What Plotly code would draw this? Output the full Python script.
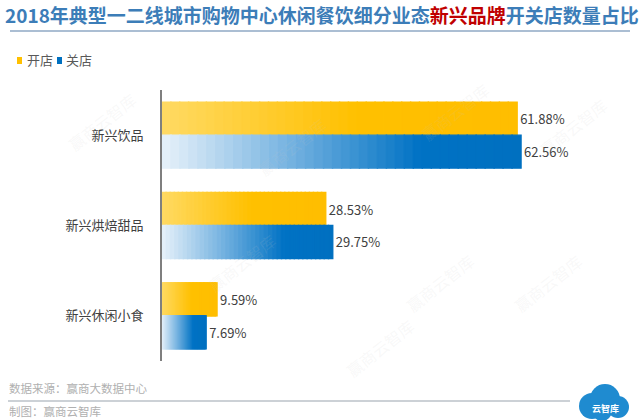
import plotly.graph_objects as go

categories = ["新兴饮品", "新兴烘焙甜品", "新兴休闲小食"]
open_pct = [61.88, 28.53, 9.59]
close_pct = [62.56, 29.75, 7.69]
series_names = ["开店", "关店"]

FONT = "Noto Sans CJK SC"
W, H = 640, 420
ML, MR, MT, MB = 162, 20, 90, 59
PW, PH = W - ML - MR, H - MT - MB


def px_x(px):
    return (px - ML) / PW


def px_y(py):
    return (H - MB - py) / PH


def lerp_color(c1, c2, t):
    return "rgb({},{},{})".format(*[round(a + (b - a) * t) for a, b in zip(c1, c2)])


def grad(stops, t):
    for (t0, c0), (t1, c1) in zip(stops, stops[1:]):
        if t <= t1:
            return lerp_color(c0, c1, (t - t0) / (t1 - t0) if t1 > t0 else 0)
    return lerp_color(stops[-1][1], stops[-1][1], 0)


gold_stops = [(0.0, (255, 218, 100)), (0.55, (255, 192, 0)), (1.0, (255, 190, 0))]
blue_stops = [(0.0, (232, 242, 250)), (0.35, (120, 180, 225)), (0.72, (0, 114, 196)), (1.0, (0, 112, 192))]

N = 40
fig = go.Figure()
for name, vals, stops in [(series_names[0], open_pct, gold_stops), (series_names[1], close_pct, blue_stops)]:
    ys, xs, bases, cols, texts = [], [], [], [], []
    for cat, v in zip(categories, vals):
        for k in range(N):
            ys.append(cat)
            bases.append(v * k / N)
            xs.append(v / N)
            cols.append(grad(stops, (k + 0.5) / N))
            texts.append(f"{v:.2f}%" if k == N - 1 else "")
    fig.add_trace(go.Bar(
        name=name, y=ys, x=xs, base=bases, orientation="h",
        marker=dict(color=cols, line=dict(width=1.4, color=cols)),
        text=texts, textposition="outside", cliponaxis=False,
        textfont=dict(family=FONT, size=13, color="#404040"),
        showlegend=False, hoverinfo="skip",
    ))

shapes = [
    dict(type="line", xref="paper", yref="paper", x0=px_x(10), x1=px_x(630),
         y0=px_y(31), y1=px_y(31), line=dict(color="#8FA8C4", width=1.5)),
    dict(type="line", xref="paper", yref="paper", x0=px_x(8), x1=px_x(570),
         y0=px_y(401), y1=px_y(401), line=dict(color="#9AA4AE", width=1.2)),
    dict(type="rect", xref="paper", yref="paper", x0=px_x(17), x1=px_x(22),
         y0=px_y(64), y1=px_y(57), fillcolor="#FFC000", line=dict(width=0)),
    dict(type="rect", xref="paper", yref="paper", x0=px_x(57), x1=px_x(62),
         y0=px_y(64), y1=px_y(57), fillcolor="#0070C0", line=dict(width=0)),
]
# logo cloud
for cx, cy, r in [(592, 406, 13), (605, 399, 15), (618, 407, 11), (602, 411, 10)]:
    shapes.append(dict(type="circle", xref="paper", yref="paper",
                       x0=px_x(cx - r), x1=px_x(cx + r), y0=px_y(cy + r), y1=px_y(cy - r),
                       fillcolor="#1F8BD0", line=dict(width=0)))

annotations = [
    dict(text="开店", x=px_x(25), y=px_y(60), xref="paper", yref="paper", xanchor="left",
         yanchor="middle", showarrow=False, font=dict(family=FONT, size=13, color="#595959")),
    dict(text="关店", x=px_x(64), y=px_y(60), xref="paper", yref="paper", xanchor="left",
         yanchor="middle", showarrow=False, font=dict(family=FONT, size=13, color="#595959")),
    dict(text="数据来源：赢商大数据中心", x=px_x(7), y=px_y(388), xref="paper", yref="paper",
         xanchor="left", yanchor="middle", showarrow=False,
         font=dict(family=FONT, size=11.5, color="#B0B0B0")),
    dict(text="制图：赢商云智库", x=px_x(7), y=px_y(411), xref="paper", yref="paper",
         xanchor="left", yanchor="middle", showarrow=False,
         font=dict(family=FONT, size=11.5, color="#B0B0B0")),
    dict(text="<b>云智库</b>", x=px_x(605), y=px_y(408), xref="paper", yref="paper",
         xanchor="center", yanchor="middle", showarrow=False,
         font=dict(family=FONT, size=9, color="white")),
]
for wx, wy in [(60, 85), (250, 110), (455, 75), (615, 90), (200, 300), (440, 320), (590, 320), (380, 385)]:
    annotations.append(dict(text="赢商云智库", x=px_x(wx), y=px_y(wy), xref="paper", yref="paper",
                            showarrow=False, textangle=-38,
                            font=dict(family=FONT, size=16, color="rgba(200,200,200,0.12)")))

fig.update_layout(
    width=W, height=H,
    margin=dict(l=ML, r=MR, t=MT, b=MB),
    paper_bgcolor="white", plot_bgcolor="white",
    barmode="group", bargap=0.27, bargroupgap=0,
    title=dict(
        text='<b>2018年典型一二线城市购物中心休闲餐饮细分业态<span style="color:#C00000">新兴品牌</span>开关店数量占比</b>',
        x=5 / W, xanchor="left", xref="container", y=1 - 16 / H, yref="container", yanchor="middle",
        font=dict(family=FONT, size=19, color="#3C7DB8"),
    ),
    xaxis=dict(range=[0, 79.8], visible=False, fixedrange=True),
    yaxis=dict(autorange="reversed", showline=True, linecolor="#7F7F7F", linewidth=2,
               ticks="", showgrid=False, ticklabelstandoff=14,
               tickfont=dict(family=FONT, size=13, color="#404040")),
    shapes=shapes, annotations=annotations,
)

fig.write_html("out.html")
